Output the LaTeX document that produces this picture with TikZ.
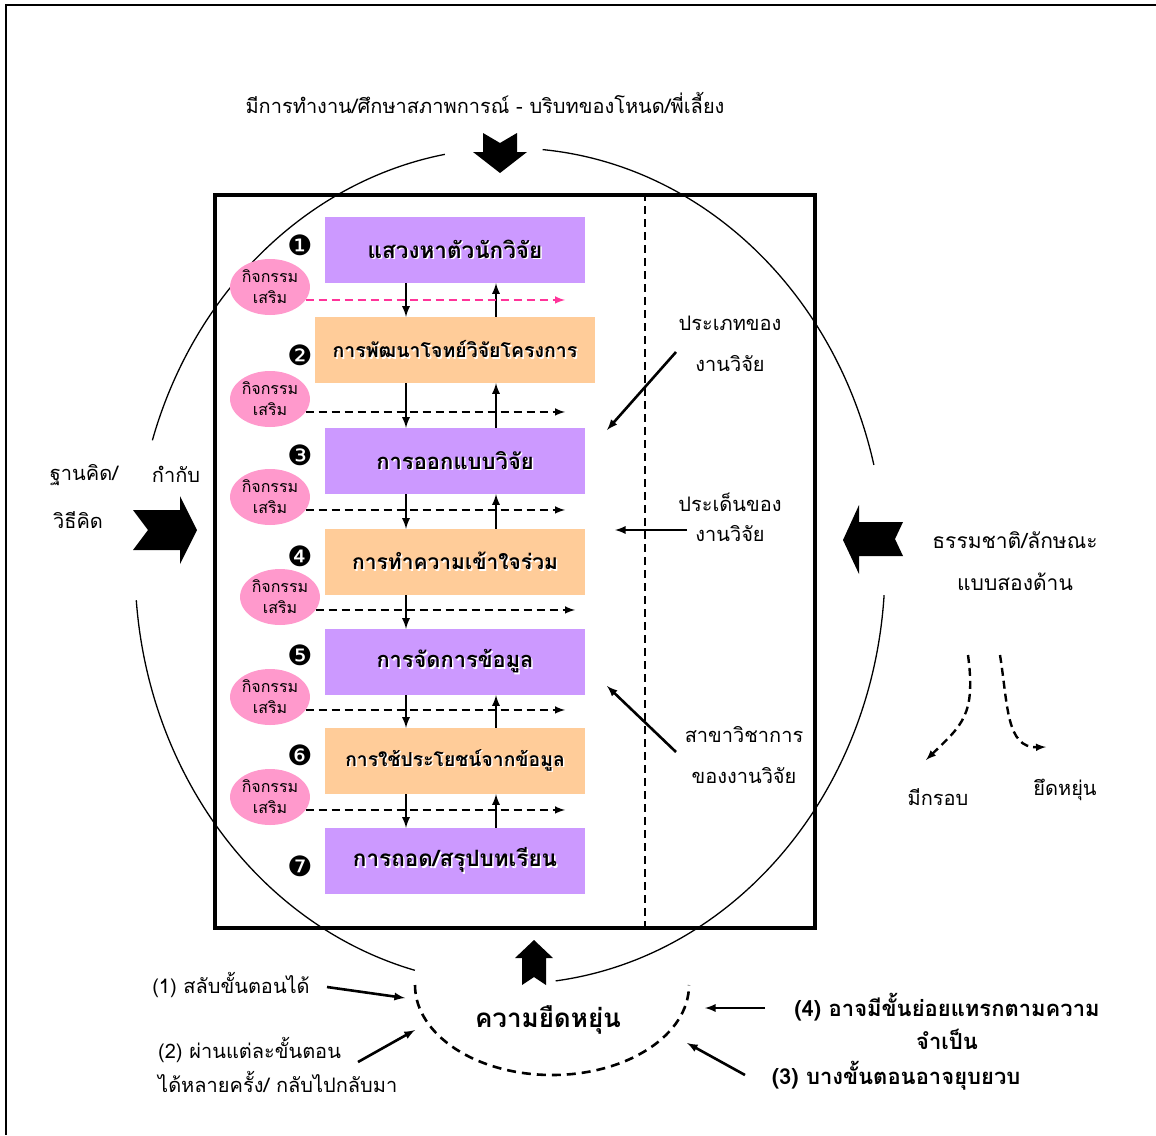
\documentclass[tikz,border=0pt]{standalone}
\usepackage{fontspec}
\setmainfont[Script=Thai]{Loma}
\newfontfamily\dejavu{DejaVu Sans}
\usetikzlibrary{shapes.geometric,positioning}
\definecolor{roxo}{HTML}{CC99FF}
\definecolor{laranja}{HTML}{FFCC99}
\definecolor{rosa}{HTML}{FF99CC}
\definecolor{rosaforte}{HTML}{FF3399}
\newcommand{\sombreado}[1]{\makebox[0pt][l]{\kern1.5pt\raisebox{-1.5pt}{\textcolor{white}{#1}}}#1}
\begin{document}
\begin{tikzpicture}[x=1pt, y=-1pt, >=latex,
    texto/.style={inner sep=0pt, font=\fontsize{20}{41}\selectfont, align=center},
    etapa/.style={minimum width=260pt, minimum height=66pt, inner sep=0pt},
    extra/.style={ellipse, fill=rosa, minimum width=70pt, minimum height=56pt, inner sep=0pt, align=center, font=\fontsize{16}{21}\selectfont},
    seta/.style={->, line width=2.6pt},
    tracejada/.style={->, line width=2.4pt, dash pattern=on 8pt off 5pt}]
  \useasboundingbox (0,0) rectangle (1156,1135);
  \draw[line width=1.5pt] (1156,5) -- (6,5) -- (6,1135);

  % Quadro principal
  \node[draw, line width=3.4pt, minimum width=600pt, minimum height=733pt, inner sep=0pt] (quadro) at (515,561.5) {};
  \coordinate (xv) at (645,0);
  \draw[line width=2.2pt, dash pattern=on 8pt off 5pt] (quadro.north -| xv) -- (quadro.south -| xv);

  % Elipse em volta
  \draw[line width=1.3pt] (510,566) ++(275:375 and 418) arc[start angle=275, end angle=346, x radius=375, y radius=418];
  \draw[line width=1.3pt] (510,566) ++(4:375 and 418) arc[start angle=4, end angle=83, x radius=375, y radius=418];
  \draw[line width=1.3pt] (510,566) ++(104.7:375 and 418) arc[start angle=104.7, end angle=175.3, x radius=375, y radius=418];
  \draw[line width=1.3pt] (510,566) ++(197.5:375 and 418) arc[start angle=197.5, end angle=260, x radius=375, y radius=418];

  % Etapas
  \foreach \n/\y/\cor/\larg/\tam/\txt in {1/250/roxo/260/22.5/{แสวงหาตัวนักวิจัย}, 2/350/laranja/280/19.5/{การพัฒนาโจทย์วิจัยโครงการ}, 3/461/roxo/260/22/{การออกแบบวิจัย}, 4/562/laranja/260/21/{การทำความเข้าใจร่วม}, 5/662/roxo/260/21.8/{การจัดการข้อมูล}, 6/761/laranja/260/19.3/{การใช้ประโยชน์จากข้อมูล}, 7/861/roxo/260/22.5/{การถอด/สรุปบทเรียน}} {
    \node[etapa, fill=\cor, minimum width=\larg pt, font=\bfseries\fontsize{\tam}{24}\selectfont] (s\n) at (455,\y) {\sombreado{\txt}};
  }
  \foreach \n/\y/\num in {1/245/❶, 2/355/❷, 3/455/❸, 4/556/❹, 5/655/❺, 6/755/❻, 7/866/❼} {
    \node[inner sep=0pt, font=\dejavu\fontsize{28}{28}\selectfont] (n\n) at (300,\y) {\num};
  }

  % Setas entre etapas
  \coordinate (xd) at (406,0);
  \coordinate (xu) at (496,0);
  \foreach \a/\b in {1/2,2/3,3/4,4/5,5/6,6/7} {
    \draw[seta] (s\a.south -| xd) -- (s\b.north -| xd);
  }
  \foreach \a/\b in {1/2,2/3,3/4,5/6,6/7} {
    \draw[seta] (s\b.north -| xu) -- (s\a.south -| xu);
  }

  % Atividades extras
  \foreach \n/\x/\y/\fim in {1/270/287/565, 2/270/399/565, 3/270/497/565, 4/280/597/575, 5/270/697/565, 6/270/797/565} {
    \node[extra] (e\n) at (\x,\y) {กิจกรรม\\เสริม};
    \coordinate (f\n) at (\fim,0);
  }
  \draw[tracejada, rosaforte] (e1.-20) -- (e1.-20 -| f1);
  \foreach \n in {2,...,6} {
    \draw[tracejada] (e\n.-20) -- (e\n.-20 -| f\n);
  }

  % Rotulos da direita
  \node[texto] (tipo) at (730,344) {ประเภทของ\\งานวิจัย};
  \node[texto, font=\fontsize{20}{30}\selectfont] (tema) at (730,517) {ประเด็นของ\\งานวิจัย};
  \node[texto] (area) at (744,755) {สาขาวิชาการ\\ของงานวิจัย};
  \coordinate (tipo1) at (676,352);  \coordinate (tipo2) at (607,430);
  \coordinate (tema1) at (687,530);  \coordinate (tema2) at (615,530);
  \coordinate (area1) at (676,752);  \coordinate (area2) at (607,686);
  \draw[seta] (tipo1) -- (tipo2);
  \draw[seta] (tema1) -- (tema2);
  \draw[seta] (area1) -- (area2);

  % Setas largas
  \node[texto] (contexto) at (485,103) {มีการทำงาน/ศึกษาสภาพการณ์ - บริบทของโหนด/พี่เลี้ยง};
  \fill (483,133) -- (500,143) -- (517,133) -- (517,152) -- (527,152) -- (500,173) -- (473,152) -- (483,152) -- cycle;
  \node[texto] (base1) at (84,475) {ฐานคิด/};
  \node[texto] (base2) at (78,520) {วิธีคิด};
  \node[texto] (guia) at (176,474) {กำกับ};
  \fill (133,510) -- (180,510) -- (180,496) -- (197,530) -- (180,564) -- (180,550) -- (133,550) -- (148,530) -- cycle;
  \node[texto, font=\fontsize{21}{41}\selectfont] (natureza1) at (1015,540) {ธรรมชาติ/ลักษณะ};
  \node[texto, font=\fontsize{21}{41}\selectfont] (natureza2) at (1015,582) {แบบสองด้าน};
  \fill (903,522) -- (859,522) -- (859,505) -- (843,540) -- (859,574) -- (859,556) -- (903,556) -- (895,539) -- cycle;
  \fill (534,940) -- (553,958) -- (546,958) -- (546,985) -- (534,977) -- (522,985) -- (522,958) -- (515,958) -- cycle;

  % Duas direcoes
  \coordinate (d1) at (968,655);  \coordinate (d2) at (926,760);
  \coordinate (d3) at (1000,655); \coordinate (d4) at (1046,747);
  \draw[tracejada] (d1) .. controls (976,715) and (962,725) .. (d2);
  \draw[tracejada] (d3) .. controls (1008,705) and (1006,748) .. (d4);
  \node[texto] (quadrado) at (938,797) {มีกรอบ};
  \node[texto] (flexivel) at (1065,790) {ยึดหยุ่น};

  % Flexibilidade
  \draw[line width=2.6pt, dash pattern=on 9pt off 6pt] (552,985) ++(180:137 and 90) arc[start angle=180, end angle=0, x radius=137, y radius=90];
  \node[texto, font=\bfseries\fontsize{26}{30}\selectfont] (flex) at (548,1020) {ความยืดหยุ่น};
  \node[texto] (p1) at (231,985) {(1) สลับขั้นตอนได้};
  \node[texto, align=left, anchor=west, font=\fontsize{20}{34}\selectfont] (p2) at (158,1065) {(2) ผ่านแต่ละขั้นตอน\\ได้หลายครั้ง/ กลับไปกลับมา};
  \node[texto, font=\bfseries\fontsize{22}{33}\selectfont] (p4) at (947,1021) {(4) อาจมีขั้นย่อยแทรกตามความ\\จำเป็น};
  \node[texto, font=\bfseries\fontsize{22}{33}\selectfont] (p3) at (896,1076) {(3) บางขั้นตอนอาจยุบยวบ};
  \coordinate (q1a) at (327,987); \coordinate (q1b) at (405,998);
  \coordinate (q2a) at (358,1062); \coordinate (q2b) at (415,1030);
  \coordinate (q4a) at (765,1008); \coordinate (q4b) at (705,1008);
  \coordinate (q3a) at (745,1075); \coordinate (q3b) at (687,1043);
  \draw[seta] (q1a) -- (q1b);
  \draw[seta] (q2a) -- (q2b);
  \draw[seta] (q4a) -- (q4b);
  \draw[seta] (q3a) -- (q3b);
\end{tikzpicture}
\end{document}
